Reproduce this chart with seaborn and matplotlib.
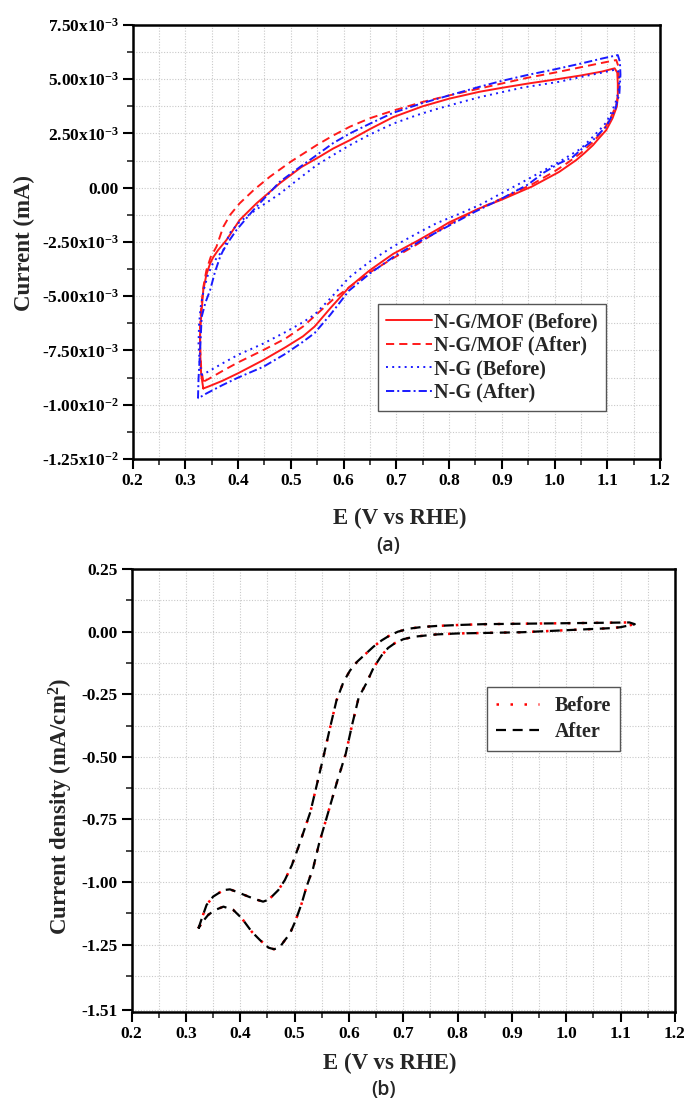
import matplotlib
matplotlib.use("Agg")
import matplotlib.pyplot as plt
import seaborn as sns
from matplotlib.ticker import FixedLocator, MultipleLocator

# ---------------- data (a): CV loops, current in units of 1e-3 mA ----------------
e_mof_before = [0.334, 0.330, 0.328, 0.328, 0.330, 0.334, 0.340, 0.347, 0.353, 0.362, 0.378, 0.403,
                0.435, 0.479, 0.520, 0.549, 0.580, 0.612, 0.650, 0.694, 0.750, 0.800, 0.858, 0.900,
                0.950, 1.000, 1.050, 1.090, 1.114, 1.119, 1.120, 1.120, 1.118, 1.110, 1.098, 1.085,
                1.073, 1.057, 1.041, 1.025, 1.009, 0.980, 0.957, 0.900, 0.858, 0.800, 0.776, 0.740,
                0.694, 0.650, 0.610, 0.599, 0.575, 0.545, 0.523, 0.490, 0.448, 0.400, 0.370, 0.345, 0.334]
i_mof_before = [-9.25, -8.6, -7.5, -6.6, -5.95, -4.72, -4.0, -3.49, -3.2, -2.88, -2.41, -1.49,
                -0.72, 0.2, 0.95, 1.35, 1.8, 2.19, 2.7, 3.25, 3.75, 4.1, 4.42, 4.6,
                4.8, 4.98, 5.17, 5.35, 5.5, 5.3, 4.8, 4.2, 3.73, 3.2, 2.65, 2.3,
                1.96, 1.6, 1.27, 1.0, 0.73, 0.35, 0.05, -0.55, -0.95, -1.6, -1.95, -2.45,
                -3.05, -3.8, -4.6, -4.9, -5.55, -6.4, -6.85, -7.35, -7.94, -8.55, -8.9, -9.15, -9.25]

e_mof_after = [0.334, 0.330, 0.328, 0.328, 0.330, 0.334, 0.340, 0.348, 0.359, 0.372, 0.385, 0.403,
               0.430, 0.460, 0.500, 0.549, 0.580, 0.612, 0.650, 0.694, 0.750, 0.800, 0.858, 0.900,
               0.950, 1.000, 1.050, 1.090, 1.117, 1.121, 1.122, 1.121, 1.118, 1.110, 1.098, 1.085,
               1.073, 1.050, 1.025, 1.000, 0.957, 0.900, 0.858, 0.800, 0.776, 0.740, 0.694, 0.650,
               0.610, 0.580, 0.555, 0.523, 0.490, 0.448, 0.400, 0.370, 0.345, 0.334]
i_mof_after = [-8.94, -8.3, -7.3, -6.4, -5.5, -4.6, -3.8, -3.2, -2.72, -1.8, -1.25, -0.72,
               -0.1, 0.5, 1.2, 1.96, 2.4, 2.81, 3.2, 3.55, 3.95, 4.25, 4.57, 4.8,
               5.07, 5.3, 5.55, 5.75, 5.88, 5.6, 5.0, 4.4, 3.9, 3.4, 2.85, 2.45,
               2.1, 1.6, 1.15, 0.75, 0.15, -0.5, -0.95, -1.7, -2.05, -2.6, -3.25, -3.9,
               -4.6, -5.15, -5.7, -6.4, -6.95, -7.48, -8.05, -8.45, -8.8, -8.94]

e_ng_before = [0.331, 0.327, 0.325, 0.326, 0.329, 0.335, 0.343, 0.352, 0.362, 0.372, 0.384, 0.403,
               0.435, 0.479, 0.520, 0.549, 0.580, 0.612, 0.650, 0.694, 0.740, 0.776, 0.820, 0.858,
               0.900, 0.941, 1.009, 1.050, 1.090, 1.117, 1.123, 1.123, 1.121, 1.116, 1.110, 1.098,
               1.085, 1.073, 1.050, 1.023, 1.009, 0.980, 0.941, 0.900, 0.858, 0.820, 0.776, 0.740,
               0.694, 0.650, 0.610, 0.599, 0.575, 0.545, 0.523, 0.490, 0.448, 0.400, 0.370, 0.345, 0.331]
i_ng_before = [-8.64, -8.0, -7.2, -6.3, -5.5, -4.7, -4.0, -3.5, -3.15, -2.88, -2.1, -1.57,
               -1.0, -0.28, 0.5, 1.04, 1.5, 1.96, 2.45, 2.95, 3.35, 3.62, 3.92, 4.17,
               4.4, 4.62, 4.88, 5.1, 5.3, 5.45, 5.3, 4.9, 4.4, 3.95, 3.58, 3.0,
               2.65, 2.35, 1.8, 1.4, 1.19, 0.8, 0.28, -0.25, -0.8, -1.2, -1.64, -2.1,
               -2.71, -3.4, -4.15, -4.45, -5.1, -5.85, -6.2, -6.65, -7.18, -7.7, -8.1, -8.45, -8.64]

e_ng_after = [0.324, 0.325, 0.328, 0.331, 0.338, 0.347, 0.356, 0.366, 0.372, 0.384, 0.397, 0.429,
              0.479, 0.520, 0.549, 0.580, 0.612, 0.650, 0.694, 0.750, 0.800, 0.858, 0.900, 0.950,
              1.000, 1.050, 1.090, 1.120, 1.124, 1.125, 1.123, 1.115, 1.098, 1.085, 1.073, 1.050,
              1.035, 1.009, 0.980, 0.950, 0.900, 0.850, 0.800, 0.750, 0.700, 0.650, 0.610, 0.599,
              0.575, 0.545, 0.523, 0.490, 0.448, 0.400, 0.370, 0.340, 0.324]
i_ng_after = [-9.71, -8.8, -7.48, -5.95, -5.3, -4.72, -3.9, -3.18, -2.88, -2.41, -1.95, -1.03,
              0.27, 1.0, 1.5, 2.05, 2.5, 2.95, 3.45, 3.9, 4.25, 4.65, 4.92, 5.2,
              5.45, 5.72, 5.95, 6.11, 5.8, 5.2, 4.35, 3.6, 2.81, 2.5, 2.19, 1.75,
              1.42, 1.12, 0.7, 0.15, -0.5, -1.1, -1.75, -2.4, -3.1, -3.95, -4.75, -5.1,
              -5.85, -6.7, -7.1, -7.65, -8.25, -8.75, -9.1, -9.48, -9.71]

cv_labels = ["N-G/MOF (Before)", "N-G/MOF (After)", "N-G (Before)", "N-G (After)"]

# ---------------- data (b): current density loop (mA/cm2) ----------------
e_lsv_before = [0.323, 0.330, 0.338, 0.350, 0.369, 0.381, 0.396, 0.415, 0.430, 0.442, 0.450, 0.458,
                0.470, 0.482, 0.495, 0.507, 0.518, 0.529, 0.541, 0.553, 0.565, 0.577, 0.590, 0.602,
                0.615, 0.630, 0.645, 0.660, 0.675, 0.690, 0.710, 0.735, 0.762, 0.804, 0.847, 0.923,
                1.003, 1.083, 1.116, 1.126,
                1.100, 1.080, 1.000, 0.920, 0.850, 0.800, 0.760, 0.720, 0.700, 0.685, 0.672, 0.660,
                0.645, 0.632, 0.618, 0.606, 0.594, 0.578, 0.562, 0.545, 0.534, 0.522, 0.513, 0.501,
                0.491, 0.481, 0.472, 0.462, 0.452, 0.436, 0.421, 0.403, 0.387, 0.369, 0.353, 0.341,
                0.330, 0.323]
j_lsv_before = [-1.185, -1.14, -1.091, -1.058, -1.032, -1.029, -1.041, -1.058, -1.07, -1.078, -1.072, -1.058,
                -1.032, -0.992, -0.932, -0.86, -0.79, -0.72, -0.61, -0.5, -0.385, -0.275, -0.2, -0.155,
                -0.12, -0.09, -0.06, -0.035, -0.015, 0.0, 0.012, 0.019, 0.023, 0.027, 0.03, 0.032,
                0.034, 0.036, 0.037, 0.03,
                0.018, 0.014, 0.006, -0.002, -0.005, -0.007, -0.011, -0.02, -0.03, -0.045, -0.065, -0.095,
                -0.145, -0.206, -0.262, -0.37, -0.488, -0.6, -0.72, -0.846, -0.945, -1.018, -1.085, -1.158,
                -1.207, -1.235, -1.262, -1.268, -1.262, -1.231, -1.198, -1.145, -1.111, -1.098, -1.112, -1.131,
                -1.16, -1.185]
# the two scans overlap completely in the figure
e_lsv_after = list(e_lsv_before)
j_lsv_after = list(j_lsv_before)

x_ticks = [0.2, 0.3, 0.4, 0.5, 0.6, 0.7, 0.8, 0.9, 1.0, 1.1, 1.2]
cv_yticks = [7.5, 5.0, 2.5, 0.0, -2.5, -5.0, -7.5, -10.0, -12.5]
cv_ylabels = [r"7.50x10$^{-3}$", r"5.00x10$^{-3}$", r"2.50x10$^{-3}$", "0.00", r"-2.50x10$^{-3}$",
              r"-5.00x10$^{-3}$", r"-7.50x10$^{-3}$", r"-1.00x10$^{-2}$", r"-1.25x10$^{-2}$"]
lsv_yticks = [0.25, 0.0, -0.25, -0.5, -0.75, -1.0, -1.25, -1.51]
lsv_ylabels = ["0.25", "0.00", "-0.25", "-0.50", "-0.75", "-1.00", "-1.25", "-1.51"]

# ---------------- style ----------------
sns.set_style("ticks")
plt.rcParams["font.family"] = ["Liberation Serif", "DejaVu Serif"]
plt.rcParams["font.weight"] = "bold"
plt.rcParams["mathtext.fontset"] = "custom"
plt.rcParams["mathtext.rm"] = "Liberation Serif:bold"
plt.rcParams["mathtext.it"] = "Liberation Serif:bold"
plt.rcParams["mathtext.bf"] = "Liberation Serif:bold"
plt.rcParams["mathtext.default"] = "rm"

W, H = 684, 1099
fig = plt.figure(figsize=(W / 100, H / 100), dpi=100)
fig.patch.set_facecolor("white")

ax1 = fig.add_axes([132.6 / W, 1 - 459 / H, (660 - 132.6) / W, (459 - 24.9) / H])
ax2 = fig.add_axes([131.6 / W, 1 - 1012.3 / H, (675 - 131.6) / W, (1012.3 - 569.1) / H])


def style_axes(ax):
    for s in ax.spines.values():
        s.set_linewidth(1.8)
        s.set_color("black")
    ax.tick_params(which="major", direction="out", length=7, width=1.5, labelsize=12.5,
                   pad=3, top=False, right=False, colors="black")
    ax.tick_params(which="minor", direction="out", length=4, width=1.2, top=False, right=False)
    ax.grid(which="both", color="#c9c9c9", linestyle=(0, (1, 1.5)), linewidth=0.8)
    ax.set_axisbelow(True)
    ax.set_xlim(0.2, 1.2)
    ax.xaxis.set_major_locator(FixedLocator(x_ticks))
    ax.set_xticklabels([f"{v:.1f}" for v in x_ticks])
    ax.xaxis.set_minor_locator(MultipleLocator(0.05))
    for lab in ax.get_xticklabels() + ax.get_yticklabels():
        lab.set_fontweight("bold")
    ax.set_xlabel("")
    ax.set_ylabel("")


# ---------------- (a) ----------------
lw = 1.4
sns.lineplot(x=e_mof_before, y=i_mof_before, sort=False, estimator=None, ax=ax1,
             color="#ff1a1a", linewidth=lw, linestyle="-", label=cv_labels[0])
sns.lineplot(x=e_mof_after, y=i_mof_after, sort=False, estimator=None, ax=ax1,
             color="#ff1a1a", linewidth=lw, linestyle=(0, (4.2, 2.6)), label=cv_labels[1])
sns.lineplot(x=e_ng_before, y=i_ng_before, sort=False, estimator=None, ax=ax1,
             color="#1a1aff", linewidth=lw, linestyle=(0, (1, 2.2)), label=cv_labels[2])
sns.lineplot(x=e_ng_after, y=i_ng_after, sort=False, estimator=None, ax=ax1,
             color="#1a1aff", linewidth=lw, linestyle=(0, (4.2, 1.6, 1, 1.6)), label=cv_labels[3])

style_axes(ax1)
ax1.set_ylim(-12.5, 7.5)
ax1.yaxis.set_major_locator(FixedLocator(cv_yticks))
ax1.set_yticklabels(cv_ylabels, fontweight="bold")
ax1.yaxis.set_minor_locator(MultipleLocator(1.25))

leg1 = ax1.legend(loc="upper left", bbox_to_anchor=(378 / W, 1 - 304 / H), bbox_transform=fig.transFigure,
                  borderaxespad=0, fancybox=False, framealpha=1, edgecolor="#555555",
                  prop={"size": 14.5, "weight": "bold"}, handlelength=2.3, handletextpad=0.1,
                  labelspacing=0.18, borderpad=0.4)
leg1.get_frame().set_linewidth(1.0)

# ---------------- (b) ----------------
sns.lineplot(x=e_lsv_before, y=j_lsv_before, sort=False, estimator=None, ax=ax2,
             color="#ff0000", linewidth=1.8, linestyle=(0, (1, 4.6)), label="Before")
sns.lineplot(x=e_lsv_after, y=j_lsv_after, sort=False, estimator=None, ax=ax2,
             color="black", linewidth=1.6, linestyle=(0, (4.5, 3.0)), label="After")

style_axes(ax2)
ax2.set_ylim(-1.52, 0.25)
ax2.yaxis.set_major_locator(FixedLocator(lsv_yticks))
ax2.set_yticklabels(lsv_ylabels, fontweight="bold")
ax2.yaxis.set_minor_locator(FixedLocator([0.125, -0.125, -0.375, -0.625, -0.875, -1.125, -1.375]))

leg2 = ax2.legend(loc="upper left", bbox_to_anchor=(487 / W, 1 - 687 / H), bbox_transform=fig.transFigure,
                  borderaxespad=0, fancybox=False, framealpha=1, edgecolor="#555555",
                  prop={"size": 14.5, "weight": "bold"}, handlelength=2.15, handletextpad=0.75,
                  labelspacing=0.3, borderpad=0.45)
leg2.get_frame().set_linewidth(1.0)

# ---------------- labels ----------------
fig.text(24 / W, 1 - 243 / H, "Current (mA)", rotation=90, ha="center", va="center",
         fontsize=16.5, fontweight="bold")
fig.text(400 / W, 1 - 518 / H, "E (V vs RHE)", ha="center", va="center", fontsize=16.5, fontweight="bold")
fig.text(388 / W, 1 - 546 / H, "(a)", ha="center", va="center", fontsize=14,
         family=["Open Sans", "DejaVu Sans"], fontweight="semibold")

fig.text(61 / W, 1 - 806 / H, "Current density (mA/cm$^{2}$)", rotation=90, ha="center", va="center",
         fontsize=16.5, fontweight="bold")
fig.text(390 / W, 1 - 1063 / H, "E (V vs RHE)", ha="center", va="center", fontsize=16.5, fontweight="bold")
fig.text(384 / W, 1 - 1090 / H, "(b)", ha="center", va="center", fontsize=14,
         family=["Open Sans", "DejaVu Sans"], fontweight="semibold")

fig.savefig("out.png", dpi=100)
